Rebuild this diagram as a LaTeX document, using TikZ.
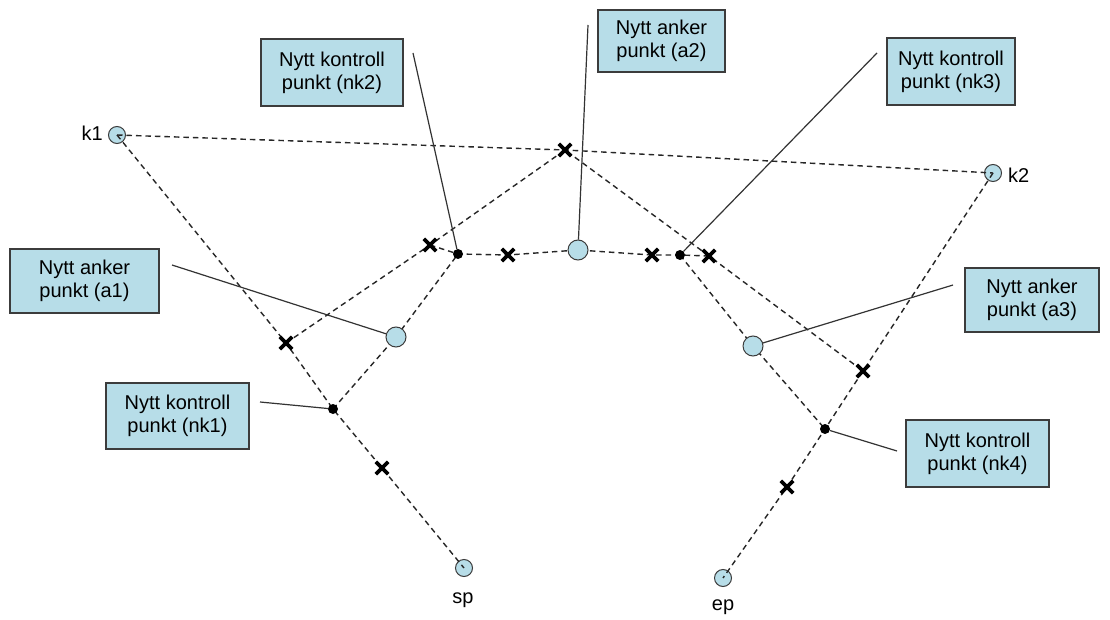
\documentclass[tikz,border=0pt]{standalone}
\usepackage{fontspec}
\setmainfont{Liberation Sans}
\usetikzlibrary{shapes.misc}
\pgfdeclarelayer{background}
\pgfsetlayers{background,main}
\definecolor{lblue}{RGB}{183,221,232}
\definecolor{edge}{RGB}{60,60,60}
\tikzset{
  endpt/.style={circle,draw=edge,fill=lblue,line width=1pt,minimum size=17pt,inner sep=0pt},
  anchorpt/.style={circle,draw=edge,fill=lblue,line width=1pt,minimum size=20pt,inner sep=0pt},
  xmark/.style={cross out,draw=black,line width=3.8pt,minimum size=8.5pt,inner sep=0pt},
  dotpt/.style={circle,fill=black,minimum size=10pt,inner sep=0pt},
  dline/.style={dash pattern=on 5.5pt off 4pt,line width=1.4pt,black!85},
  leader/.style={line width=1.2pt,black!80},
  lbox/.style={rectangle,draw=edge,fill=lblue,line width=1.3pt,align=center,inner sep=0pt,
    font=\fontsize{20}{23}\selectfont},
  ptlabel/.style={font=\fontsize{20}{23}\selectfont,inner sep=0pt}
}
\begin{document}
\begin{tikzpicture}[x=1pt,y=-1pt]
\useasboundingbox (0,0) rectangle (1110,620);
% end and outer control points (below the lines)
\begin{pgfonlayer}{background}
\fill[white] (0,0) rectangle (1110,620);
\node[endpt] (k1) at (117,135) {};
\node[endpt] (k2) at (993,173) {};
\node[endpt] (sp) at (464,568) {};
\node[endpt] (ep) at (723,578) {};
\end{pgfonlayer}
\node[ptlabel,anchor=east] (k1l) at (103,133) {k1};
\node[ptlabel,anchor=west] (k2l) at (1008,175) {k2};
\node[ptlabel] (spl) at (463,600) {sp};
\node[ptlabel] (epl) at (723,607) {ep};
% midpoint crosses
\node[xmark] (c1) at (286,343) {};
\node[xmark] (c2) at (565,150) {};
\node[xmark] (c3) at (863,371) {};
\node[xmark] (c4) at (430,245) {};
\node[xmark] (c5) at (709,256) {};
\node[xmark] (c6) at (382,468) {};
\node[xmark] (c7) at (508,255) {};
\node[xmark] (c8) at (652,255) {};
\node[xmark] (c9) at (787,487) {};
% new control points
\node[dotpt] (nk1) at (333,409) {};
\node[dotpt] (nk2) at (458,254) {};
\node[dotpt] (nk3) at (680,255) {};
\node[dotpt] (nk4) at (825,429) {};
% new anchor points
\node[anchorpt] (a1) at (396,337) {};
\node[anchorpt] (a2) at (578,250) {};
\node[anchorpt] (a3) at (753,346) {};
% dashed construction lines
\begin{pgfonlayer}{background}
\draw[dline] (k1.center) -- (c1.center) -- (nk1.center) -- (c6.center) -- (sp.center);
\draw[dline] (k1.center) -- (c2.center) -- (k2.center);
\draw[dline] (k2.center) -- (c3.center) -- (nk4.center) -- (c9.center) -- (ep.center);
\draw[dline] (c1.center) -- (c4.center) -- (c2.center) -- (c5.center) -- (c3.center);
\draw[dline] (c4.center) -- (nk2.center) -- (c7.center) -- (a2.center) -- (c8.center) -- (nk3.center) -- (c5.center);
\draw[dline] (nk1.center) -- (a1.center) -- (nk2.center);
\draw[dline] (nk3.center) -- (a3.center) -- (nk4.center);
\end{pgfonlayer}
% label boxes
\node[lbox,minimum width=142pt,minimum height=67pt] (bnk2) at (332,72.5) {Nytt kontroll\\punkt (nk2)};
\node[lbox,minimum width=127pt,minimum height=62pt] (ba2) at (661.5,41) {Nytt anker\\punkt (a2)};
\node[lbox,minimum width=128pt,minimum height=67pt] (bnk3) at (951,71.5) {Nytt kontroll\\punkt (nk3)};
\node[lbox,minimum width=149pt,minimum height=64pt] (ba1) at (84.5,281) {Nytt anker\\punkt (a1)};
\node[lbox,minimum width=134pt,minimum height=64pt] (ba3) at (1032,300) {Nytt anker\\punkt (a3)};
\node[lbox,minimum width=143pt,minimum height=66pt] (bnk1) at (177.5,416) {Nytt kontroll\\punkt (nk1)};
\node[lbox,minimum width=143pt,minimum height=67pt] (bnk4) at (977.5,453.5) {Nytt kontroll\\punkt (nk4)};
% leader lines
\coordinate (lnk2) at (413,53);
\coordinate (la2) at (588,25);
\coordinate (lnk3) at (877,53);
\coordinate (la1) at (172,265);
\coordinate (la3) at (953,285);
\coordinate (lnk1) at (260,402);
\coordinate (lnk4) at (897,451);
\draw[leader] (lnk2) -- (nk2);
\draw[leader] (la2) -- (a2);
\draw[leader] (lnk3) -- (nk3);
\draw[leader] (la1) -- (a1);
\draw[leader] (la3) -- (a3);
\draw[leader] (lnk1) -- (nk1);
\draw[leader] (lnk4) -- (nk4);
\end{tikzpicture}
\end{document}
